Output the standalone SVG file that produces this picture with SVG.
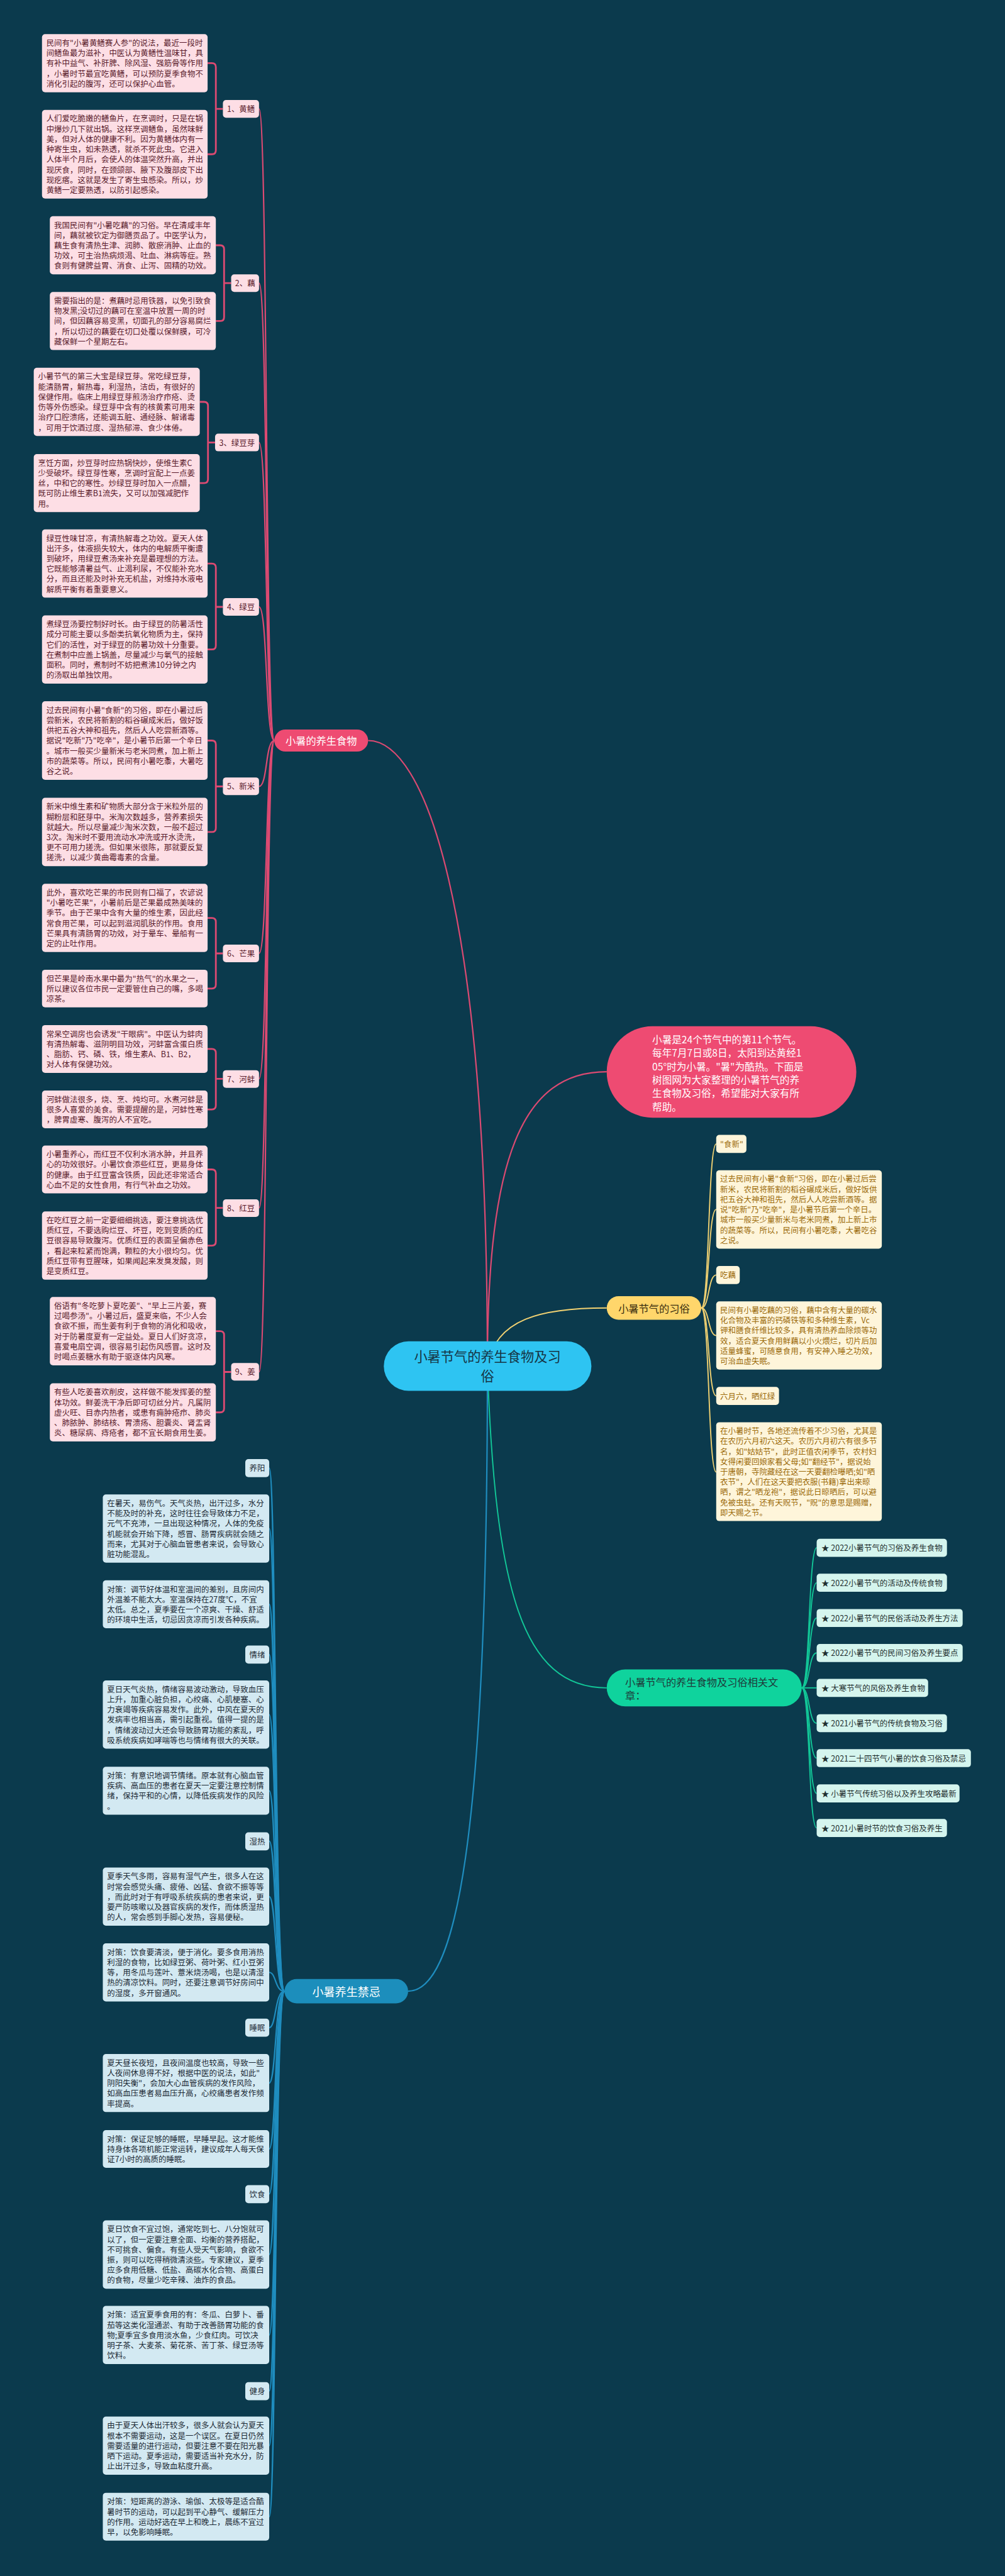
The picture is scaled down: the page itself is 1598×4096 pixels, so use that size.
<svg xmlns="http://www.w3.org/2000/svg" width="1598" height="4096" viewBox="0 0 1598 4096">
<style>
text,tspan{font-family:"Noto Sans CJK SC","Noto Sans",sans-serif;dominant-baseline:central}
.pb{fill:#FDDEE5}
.pt{font-size:20px;fill:#5A1B2C}
.pl{font-size:20px;fill:#5A1B2C;text-anchor:middle}
.tb{fill:#D3E9F2}
.tt{font-size:20px;fill:#1C2A35}
.tl{font-size:20px;fill:#1C2A35;text-anchor:middle}
.yb{fill:#FEF5DA}
.yt{font-size:20px;fill:#9C6B0A}
.gb{fill:#D5F5EE}
.gt{font-size:20px;fill:#1F2E2E}
.cp{fill:none;stroke:#DC4A72;stroke-width:3.5}
.cb{fill:none;stroke:#DC4A72;stroke-width:4.5}
.cy{fill:none;stroke:#F2D272;stroke-width:3}
.cg{fill:none;stroke:#12C898;stroke-width:3}
.ct{fill:none;stroke:#1F8DBF;stroke-width:3.5}
</style>
<rect width="1598" height="4096" fill="#0B3A4D"/>
<g transform="scale(0.624)">
<g id="connectors">
<path class="cp" d="M1242 3481 C1242 2300 1080 1887 938 1887"/>
<path class="cp" d="M1242 3481 C1242 2950 1330 2731 1546 2731"/>
<path class="cy" d="M1242 3481 C1262 3360 1380 3333 1546 3333"/>
<path class="cg" d="M1242 3481 C1262 4050 1330 4301 1546 4301"/>
<path class="ct" d="M1242 3481 C1242 4700 1160 5074 1040 5074"/>
<path class="cp" d="M699 1887 C676 1887 682 277.5 660 277.5"/>
<path class="cp" d="M699 1887 C676 1887 682 721.5 660 721.5"/>
<path class="cp" d="M699 1887 C676 1887 682 1127.5 660 1127.5"/>
<path class="cp" d="M699 1887 C676 1887 682 1546.5 660 1546.5"/>
<path class="cp" d="M699 1887 C676 1887 682 2004 660 2004"/>
<path class="cp" d="M699 1887 C676 1887 682 2429.5 660 2429.5"/>
<path class="cp" d="M699 1887 C676 1887 682 2749 660 2749"/>
<path class="cp" d="M699 1887 C676 1887 682 3078 660 3078"/>
<path class="cp" d="M699 1887 C676 1887 682 3496 660 3496"/>
<path class="cb" d="M568 277.5 H550 M529 161 H540 Q550 161 550 171 V383 Q550 393 540 393 H529"/>
<path class="cb" d="M589 721.5 H571 M550 625 H561 Q571 625 571 635 V808 Q571 818 561 818 H550"/>
<path class="cb" d="M548 1127.5 H530 M509 1024 H520 Q530 1024 530 1034 V1221 Q530 1231 520 1231 H509"/>
<path class="cb" d="M568 1546.5 H550 M529 1436 H540 Q550 1436 550 1446 V1645 Q550 1655 540 1655 H529"/>
<path class="cb" d="M568 2004 H550 M529 1887 H540 Q550 1887 550 1897 V2110 Q550 2120 540 2120 H529"/>
<path class="cb" d="M568 2429.5 H550 M529 2339 H540 Q550 2339 550 2349 V2509 Q550 2519 540 2519 H529"/>
<path class="cb" d="M568 2749 H550 M529 2673 H540 Q550 2673 550 2683 V2817 Q550 2827 540 2827 H529"/>
<path class="cb" d="M568 3078 H550 M529 2980 H540 Q550 2980 550 2990 V3164 Q550 3174 540 3174 H529"/>
<path class="cb" d="M589 3496 H571 M550 3392 H561 Q571 3392 571 3402 V3589 Q571 3599 561 3599 H550"/>
<path class="cy" d="M1787 3333 C1808 3333 1804 2915 1825 2915"/>
<path class="cy" d="M1787 3333 C1808 3333 1804 3082 1825 3082"/>
<path class="cy" d="M1787 3333 C1808 3333 1804 3249 1825 3249"/>
<path class="cy" d="M1787 3333 C1808 3333 1804 3403 1825 3403"/>
<path class="cy" d="M1787 3333 C1808 3333 1804 3557 1825 3557"/>
<path class="cy" d="M1787 3333 C1808 3333 1804 3751 1825 3751"/>
<path class="cg" d="M2043 4301 C2064 4301 2060 3944 2081 3944"/>
<path class="cg" d="M2043 4301 C2064 4301 2060 4033 2081 4033"/>
<path class="cg" d="M2043 4301 C2064 4301 2060 4123 2081 4123"/>
<path class="cg" d="M2043 4301 C2064 4301 2060 4212 2081 4212"/>
<path class="cg" d="M2043 4301 C2064 4301 2060 4301 2081 4301"/>
<path class="cg" d="M2043 4301 C2064 4301 2060 4391 2081 4391"/>
<path class="cg" d="M2043 4301 C2064 4301 2060 4480 2081 4480"/>
<path class="cg" d="M2043 4301 C2064 4301 2060 4570 2081 4570"/>
<path class="cg" d="M2043 4301 C2064 4301 2060 4658 2081 4658"/>
<path class="ct" d="M725 5074 C700 5074 704 3741 686 3741"/>
<path class="ct" d="M725 5074 C700 5074 704 3895 686 3895"/>
<path class="ct" d="M725 5074 C700 5074 704 4088 686 4088"/>
<path class="ct" d="M725 5074 C700 5074 704 4216 686 4216"/>
<path class="ct" d="M725 5074 C700 5074 704 4369 686 4369"/>
<path class="ct" d="M725 5074 C700 5074 704 4563 686 4563"/>
<path class="ct" d="M725 5074 C700 5074 704 4691.5 686 4691.5"/>
<path class="ct" d="M725 5074 C700 5074 704 4833 686 4833"/>
<path class="ct" d="M725 5074 C700 5074 704 5026 686 5026"/>
<path class="ct" d="M725 5074 C700 5074 704 5167 686 5167"/>
<path class="ct" d="M725 5074 C700 5074 704 5308 686 5308"/>
<path class="ct" d="M725 5074 C700 5074 704 5476 686 5476"/>
<path class="ct" d="M725 5074 C700 5074 704 5590.5 686 5590.5"/>
<path class="ct" d="M725 5074 C700 5074 704 5745 686 5745"/>
<path class="ct" d="M725 5074 C700 5074 704 5950 686 5950"/>
<path class="ct" d="M725 5074 C700 5074 704 6092.5 686 6092.5"/>
<path class="ct" d="M725 5074 C700 5074 704 6232 686 6232"/>
<path class="ct" d="M725 5074 C700 5074 704 6413 686 6413"/>
</g>

<g id="center">
<rect x="978" y="3418" width="529" height="126" rx="63" fill="#2EC4F2"/>
<text x="1242" y="3454" font-size="34" fill="#163545" text-anchor="middle"><tspan x="1242">小暑节气的养生食物及习</tspan><tspan x="1242" dy="50">俗</tspan></text>
</g>

<g id="intro">
<rect x="1546" y="2615" width="636" height="233" rx="116.5" fill="#EE4B72"/>
<text x="1662" y="2647" font-size="25" fill="#FFFFFF"><tspan x="1662">小暑是24个节气中的第11个节气。</tspan><tspan x="1662" dy="34.3">每年7月7日或8日，太阳到达黄经1</tspan><tspan x="1662" dy="34.3">05°时为小暑。"暑"为酷热。下面是</tspan><tspan x="1662" dy="34.3">树图网为大家整理的小暑节气的养</tspan><tspan x="1662" dy="34.3">生食物及习俗，希望能对大家有所</tspan><tspan x="1662" dy="34.3">帮助。</tspan></text>
</g>

<g id="food">
<rect x="699" y="1859" width="239" height="56" rx="28" fill="#EE4B72"/>
<text x="818.5" y="1887" font-size="26" fill="#FFFFFF" text-anchor="middle">小暑的养生食物</text>
</g>

<g id="food-1">
<rect class="pb" x="568" y="255" width="92" height="45" rx="8"/><text class="pl" x="614" y="277.5">1、黄鳝</text>
<rect class="pb" x="107" y="87" width="422" height="148" rx="8"/>
<text class="pt" x="118" y="109"><tspan x="118">民间有"小暑黄鳝赛人参"的说法，最近一段时</tspan><tspan x="118" dy="26">间鳝鱼最为滋补，中医认为黄鳝性温味甘，具</tspan><tspan x="118" dy="26">有补中益气、补肝脾、除风湿、强筋骨等作用</tspan><tspan x="118" dy="26">，小暑时节最宜吃黄鳝，可以预防夏季食物不</tspan><tspan x="118" dy="26">消化引起的腹泻，还可以保护心血管。</tspan></text>
<rect class="pb" x="107" y="280" width="422" height="226" rx="8"/>
<text class="pt" x="118" y="302"><tspan x="118">人们爱吃脆嫩的鳝鱼片，在烹调时，只是在锅</tspan><tspan x="118" dy="26">中爆炒几下就出锅。这样烹调鳝鱼，虽然味鲜</tspan><tspan x="118" dy="26">美，但对人体的健康不利。因为黄鳝体内有一</tspan><tspan x="118" dy="26">种寄生虫，如未熟透，就杀不死此虫。它进入</tspan><tspan x="118" dy="26">人体半个月后，会使人的体温突然升高，并出</tspan><tspan x="118" dy="26">现厌食，同时，在颈颌部、腋下及腹部皮下出</tspan><tspan x="118" dy="26">现疙瘩。这就是发生了寄生虫感染。所以，炒</tspan><tspan x="118" dy="26">黄鳝一定要熟透，以防引起感染。</tspan></text>
</g>

<g id="food-2">
<rect class="pb" x="589" y="699" width="71" height="45" rx="8"/><text class="pl" x="624.5" y="721.5">2、藕</text>
<rect class="pb" x="127" y="551" width="423" height="148" rx="8"/>
<text class="pt" x="138" y="573"><tspan x="138">我国民间有"小暑吃藕"的习俗。早在清咸丰年</tspan><tspan x="138" dy="26">间，藕就被钦定为御膳贡品了。中医学认为，</tspan><tspan x="138" dy="26">藕生食有清热生津、润肺、散瘀消肿、止血的</tspan><tspan x="138" dy="26">功效，可主治热病烦渴、吐血、淋病等症。熟</tspan><tspan x="138" dy="26">食则有健脾益胃、消食、止泻、固精的功效。</tspan></text>
<rect class="pb" x="127" y="744" width="423" height="148" rx="8"/>
<text class="pt" x="138" y="766"><tspan x="138">需要指出的是：煮藕时忌用铁器，以免引致食</tspan><tspan x="138" dy="26">物发黑;没切过的藕可在室温中放置一周的时</tspan><tspan x="138" dy="26">间，但因藕容易变黑，切面孔的部分容易腐烂</tspan><tspan x="138" dy="26">，所以切过的藕要在切口处覆以保鲜膜，可冷</tspan><tspan x="138" dy="26">藏保鲜一个星期左右。</tspan></text>
</g>

<g id="food-3">
<rect class="pb" x="548" y="1105" width="112" height="45" rx="8"/><text class="pl" x="604" y="1127.5">3、绿豆芽</text>
<rect class="pb" x="86" y="937" width="423" height="174" rx="8"/>
<text class="pt" x="97" y="959"><tspan x="97">小暑节气的第三大宝是绿豆芽。常吃绿豆芽，</tspan><tspan x="97" dy="26">能清肠胃，解热毒，利湿热，洁齿，有很好的</tspan><tspan x="97" dy="26">保健作用。临床上用绿豆芽煎汤治疗疖疮、烫</tspan><tspan x="97" dy="26">伤等外伤感染。绿豆芽中含有的核黄素可用来</tspan><tspan x="97" dy="26">治疗口腔溃疡，还能调五脏、通经脉、解诸毒</tspan><tspan x="97" dy="26">，可用于饮酒过度、湿热郁滞、食少体倦。</tspan></text>
<rect class="pb" x="86" y="1157" width="423" height="148" rx="8"/>
<text class="pt" x="97" y="1179"><tspan x="97">烹饪方面，炒豆芽时应热锅快炒，使维生素C</tspan><tspan x="97" dy="26">少受破坏。绿豆芽性寒，烹调时宜配上一点姜</tspan><tspan x="97" dy="26">丝，中和它的寒性。炒绿豆芽时加入一点醋，</tspan><tspan x="97" dy="26">既可防止维生素B1流失，又可以加强减肥作</tspan><tspan x="97" dy="26">用。</tspan></text>
</g>

<g id="food-4">
<rect class="pb" x="568" y="1524" width="92" height="45" rx="8"/><text class="pl" x="614" y="1546.5">4、绿豆</text>
<rect class="pb" x="107" y="1349" width="422" height="174" rx="8"/>
<text class="pt" x="118" y="1371"><tspan x="118">绿豆性味甘凉，有清热解毒之功效。夏天人体</tspan><tspan x="118" dy="26">出汗多，体液损失较大，体内的电解质平衡遭</tspan><tspan x="118" dy="26">到破坏，用绿豆煮汤来补充是最理想的方法。</tspan><tspan x="118" dy="26">它既能够清暑益气、止渴利尿，不仅能补充水</tspan><tspan x="118" dy="26">分，而且还能及时补充无机盐，对维持水液电</tspan><tspan x="118" dy="26">解质平衡有着重要意义。</tspan></text>
<rect class="pb" x="107" y="1568" width="422" height="174" rx="8"/>
<text class="pt" x="118" y="1590"><tspan x="118">煮绿豆汤要控制好时长。由于绿豆的防暑活性</tspan><tspan x="118" dy="26">成分可能主要以多酚类抗氧化物质为主，保持</tspan><tspan x="118" dy="26">它们的活性，对于绿豆的防暑功效十分重要。</tspan><tspan x="118" dy="26">在煮制中应盖上锅盖，尽量减少与氧气的接触</tspan><tspan x="118" dy="26">面积。同时，煮制时不妨把煮沸10分钟之内</tspan><tspan x="118" dy="26">的汤取出单独饮用。</tspan></text>
</g>

<g id="food-5">
<rect class="pb" x="568" y="1981" width="92" height="45" rx="8"/><text class="pl" x="614" y="2003.5">5、新米</text>
<rect class="pb" x="107" y="1787" width="422" height="200" rx="8"/>
<text class="pt" x="118" y="1809"><tspan x="118">过去民间有小暑"食新"的习俗，即在小暑过后</tspan><tspan x="118" dy="26">尝新米，农民将新割的稻谷碾成米后，做好饭</tspan><tspan x="118" dy="26">供祀五谷大神和祖先，然后人人吃尝新酒等。</tspan><tspan x="118" dy="26">据说"吃新"乃"吃辛"，是小暑节后第一个辛日</tspan><tspan x="118" dy="26">。城市一般买少量新米与老米同煮，加上新上</tspan><tspan x="118" dy="26">市的蔬菜等。所以，民间有小暑吃黍，大暑吃</tspan><tspan x="118" dy="26">谷之说。</tspan></text>
<rect class="pb" x="107" y="2033" width="422" height="174" rx="8"/>
<text class="pt" x="118" y="2055"><tspan x="118">新米中维生素和矿物质大部分含于米粒外层的</tspan><tspan x="118" dy="26">糊粉层和胚芽中。米淘次数越多，营养素损失</tspan><tspan x="118" dy="26">就越大。所以尽量减少淘米次数，一般不超过</tspan><tspan x="118" dy="26">3次。淘米时不要用流动水冲洗或开水烫洗，</tspan><tspan x="118" dy="26">更不可用力搓洗。但如果米很陈，那就要反复</tspan><tspan x="118" dy="26">搓洗，以减少黄曲霉毒素的含量。</tspan></text>
</g>

<g id="food-6">
<rect class="pb" x="568" y="2407" width="92" height="45" rx="8"/><text class="pl" x="614" y="2429.5">6、芒果</text>
<rect class="pb" x="107" y="2252" width="422" height="174" rx="8"/>
<text class="pt" x="118" y="2274"><tspan x="118">此外，喜欢吃芒果的市民则有口福了，农谚说</tspan><tspan x="118" dy="26">"小暑吃芒果"，小暑前后是芒果最成熟美味的</tspan><tspan x="118" dy="26">季节。由于芒果中含有大量的维生素，因此经</tspan><tspan x="118" dy="26">常食用芒果，可以起到滋润肌肤的作用。食用</tspan><tspan x="118" dy="26">芒果具有清肠胃的功效，对于晕车、晕船有一</tspan><tspan x="118" dy="26">定的止吐作用。</tspan></text>
<rect class="pb" x="107" y="2471" width="422" height="96" rx="8"/>
<text class="pt" x="118" y="2493"><tspan x="118">但芒果是岭南水果中最为"热气"的水果之一，</tspan><tspan x="118" dy="26">所以建议各位市民一定要管住自己的嘴，多喝</tspan><tspan x="118" dy="26">凉茶。</tspan></text>
</g>

<g id="food-7">
<rect class="pb" x="568" y="2727" width="92" height="45" rx="8"/><text class="pl" x="614" y="2749.5">7、河蚌</text>
<rect class="pb" x="107" y="2612" width="422" height="122" rx="8"/>
<text class="pt" x="118" y="2634"><tspan x="118">常呆空调房也会诱发"干眼病"。中医认为蚌肉</tspan><tspan x="118" dy="26">有清热解毒、滋阴明目功效，河蚌富含蛋白质</tspan><tspan x="118" dy="26">、脂肪、钙、磷、铁，维生素A、B1、B2，</tspan><tspan x="118" dy="26">对人体有保健功效。</tspan></text>
<rect class="pb" x="107" y="2779" width="422" height="96" rx="8"/>
<text class="pt" x="118" y="2801"><tspan x="118">河蚌做法很多，烧、烹、炖均可。水煮河蚌是</tspan><tspan x="118" dy="26">很多人喜爱的美食。需要提醒的是，河蚌性寒</tspan><tspan x="118" dy="26">，脾胃虚寒、腹泻的人不宜吃。</tspan></text>
</g>

<g id="food-8">
<rect class="pb" x="568" y="3056" width="92" height="45" rx="8"/><text class="pl" x="614" y="3078.5">8、红豆</text>
<rect class="pb" x="107" y="2919" width="422" height="122" rx="8"/>
<text class="pt" x="118" y="2941"><tspan x="118">小暑重养心，而红豆不仅利水消水肿，并且养</tspan><tspan x="118" dy="26">心的功效很好。小暑饮食添些红豆，更易身体</tspan><tspan x="118" dy="26">的健康。由于红豆富含铁质，因此还非常适合</tspan><tspan x="118" dy="26">心血不足的女性食用，有行气补血之功效。</tspan></text>
<rect class="pb" x="107" y="3087" width="422" height="174" rx="8"/>
<text class="pt" x="118" y="3109"><tspan x="118">在吃红豆之前一定要细细挑选，要注意挑选优</tspan><tspan x="118" dy="26">质红豆，不要选购烂豆、坏豆，吃到变质的红</tspan><tspan x="118" dy="26">豆很容易导致腹泻。优质红豆的表面呈偏赤色</tspan><tspan x="118" dy="26">，看起来粒紧而饱满，颗粒的大小很均匀。优</tspan><tspan x="118" dy="26">质红豆带有豆腥味，如果闻起来发臭发酸，则</tspan><tspan x="118" dy="26">是变质红豆。</tspan></text>
</g>

<g id="food-9">
<rect class="pb" x="589" y="3473" width="71" height="45" rx="8"/><text class="pl" x="624.5" y="3495.5">9、姜</text>
<rect class="pb" x="127" y="3305" width="423" height="174" rx="8"/>
<text class="pt" x="138" y="3327"><tspan x="138">俗语有"冬吃萝卜夏吃姜"、"早上三片姜，赛</tspan><tspan x="138" dy="26">过喝参汤"。小暑过后，盛夏来临，不少人会</tspan><tspan x="138" dy="26">食欲不振，而生姜有利于食物的消化和吸收，</tspan><tspan x="138" dy="26">对于防暑度夏有一定益处。夏日人们好贪凉，</tspan><tspan x="138" dy="26">喜爱电扇空调，很容易引起伤风感冒。这时及</tspan><tspan x="138" dy="26">时喝点姜糖水有助于驱逐体内风寒。</tspan></text>
<rect class="pb" x="127" y="3525" width="423" height="148" rx="8"/>
<text class="pt" x="138" y="3547"><tspan x="138">有些人吃姜喜欢削皮，这样做不能发挥姜的整</tspan><tspan x="138" dy="26">体功效。鲜姜洗干净后即可切丝分片。凡属阴</tspan><tspan x="138" dy="26">虚火旺、目赤内热者，或患有痈肿疮疖、肺炎</tspan><tspan x="138" dy="26">、肺脓肿、肺结核、胃溃疡、胆囊炎、肾盂肾</tspan><tspan x="138" dy="26">炎、糖尿病、痔疮者，都不宜长期食用生姜。</tspan></text>
</g>

<g id="customs">
<rect x="1546" y="3303" width="241" height="60" rx="30" fill="#FFD66B"/>
<text x="1666.5" y="3333" font-size="26" fill="#3A2F10" text-anchor="middle">小暑节气的习俗</text>
</g>
<g id="customs-1">
<rect class="yb" x="1825" y="2892" width="77" height="46" rx="8"/><text class="yt" x="1835" y="2915">"食新"</text>
<rect class="yb" x="1825" y="2982" width="422" height="200" rx="8"/>
<text class="yt" x="1835" y="3004"><tspan x="1835">过去民间有小暑"食新"习俗，即在小暑过后尝</tspan><tspan x="1835" dy="26">新米，农民将新割的稻谷碾成米后，做好饭供</tspan><tspan x="1835" dy="26">祀五谷大神和祖先，然后人人吃尝新酒等。据</tspan><tspan x="1835" dy="26">说"吃新"乃"吃辛"，是小暑节后第一个辛日。</tspan><tspan x="1835" dy="26">城市一般买少量新米与老米同煮，加上新上市</tspan><tspan x="1835" dy="26">的蔬菜等。所以，民间有小暑吃黍，大暑吃谷</tspan><tspan x="1835" dy="26">之说。</tspan></text>
</g>
<g id="customs-2">
<rect class="yb" x="1825" y="3226" width="60" height="46" rx="8"/><text class="yt" x="1835" y="3249">吃藕</text>
<rect class="yb" x="1825" y="3316" width="422" height="174" rx="8"/>
<text class="yt" x="1835" y="3338"><tspan x="1835">民间有小暑吃藕的习俗，藕中含有大量的碳水</tspan><tspan x="1835" dy="26">化合物及丰富的钙磷铁等和多种维生素，Vc</tspan><tspan x="1835" dy="26">钾和膳食纤维比较多，具有清热养血除烦等功</tspan><tspan x="1835" dy="26">效，适合夏天食用鲜藕以小火煨烂，切片后加</tspan><tspan x="1835" dy="26">适量蜂蜜，可随意食用，有安神入睡之功效，</tspan><tspan x="1835" dy="26">可治血虚失眠。</tspan></text>
</g>
<g id="customs-3">
<rect class="yb" x="1825" y="3534" width="160" height="46" rx="8"/><text class="yt" x="1835" y="3557">六月六，晒红绿</text>
<rect class="yb" x="1825" y="3624" width="422" height="252" rx="8"/>
<text class="yt" x="1835" y="3646"><tspan x="1835">在小暑时节，各地还流传着不少习俗，尤其是</tspan><tspan x="1835" dy="26">在农历六月初六这天。农历六月初六有很多节</tspan><tspan x="1835" dy="26">名，如"姑姑节"，此时正值农闲季节，农村妇</tspan><tspan x="1835" dy="26">女得闲要回娘家看父母;如"翻经节"，据说始</tspan><tspan x="1835" dy="26">于唐朝，寺院藏经在这一天要翻检曝晒;如"晒</tspan><tspan x="1835" dy="26">衣节"，人们在这天要把衣服(书籍)拿出来晾</tspan><tspan x="1835" dy="26">晒，谓之"晒龙袍"，据说此日晾晒后，可以避</tspan><tspan x="1835" dy="26">免被虫蛀。还有天贶节，"贶"的意思是赐赠，</tspan><tspan x="1835" dy="26">即天赐之节。</tspan></text>
</g>

<g id="articles">
<rect x="1546" y="4254" width="497" height="94" rx="47" fill="#0FD39D"/>
<text x="1593" y="4286" font-size="26" fill="#1E3A3A"><tspan x="1593">小暑节气的养生食物及习俗相关文</tspan><tspan x="1593" dy="33">章：</tspan></text>
</g>
<g id="article-1"><rect class="gb" x="2081" y="3921" width="332" height="46" rx="8"/><text class="gt" x="2093" y="3944">★ 2022小暑节气的习俗及养生食物</text></g>
<g id="article-2"><rect class="gb" x="2081" y="4010" width="332" height="46" rx="8"/><text class="gt" x="2093" y="4033">★ 2022小暑节气的活动及传统食物</text></g>
<g id="article-3"><rect class="gb" x="2081" y="4100" width="372" height="46" rx="8"/><text class="gt" x="2093" y="4123">★ 2022小暑节气的民俗活动及养生方法</text></g>
<g id="article-4"><rect class="gb" x="2081" y="4189" width="372" height="46" rx="8"/><text class="gt" x="2093" y="4212">★ 2022小暑节气的民间习俗及养生要点</text></g>
<g id="article-5"><rect class="gb" x="2081" y="4278" width="284" height="46" rx="8"/><text class="gt" x="2093" y="4301">★ 大寒节气的风俗及养生食物</text></g>
<g id="article-6"><rect class="gb" x="2081" y="4368" width="332" height="46" rx="8"/><text class="gt" x="2093" y="4391">★ 2021小暑节气的传统食物及习俗</text></g>
<g id="article-7"><rect class="gb" x="2081" y="4457" width="393" height="46" rx="8"/><text class="gt" x="2093" y="4480">★ 2021二十四节气小暑的饮食习俗及禁忌</text></g>
<g id="article-8"><rect class="gb" x="2081" y="4547" width="364" height="46" rx="8"/><text class="gt" x="2093" y="4570">★ 小暑节气传统习俗以及养生攻略最新</text></g>
<g id="article-9"><rect class="gb" x="2081" y="4635" width="332" height="46" rx="8"/><text class="gt" x="2093" y="4658">★ 2021小暑时节的饮食习俗及养生</text></g>

<g id="taboo">
<rect x="725" y="5043" width="315" height="62" rx="31" fill="#1C8EBC"/>
<text x="882.5" y="5074" font-size="29" fill="#FFFFFF" text-anchor="middle">小暑养生禁忌</text>
</g>
<g id="taboo-1">
<rect class="tb" x="625" y="3718" width="61" height="46" rx="8"/><text class="tl" x="655.5" y="3741">养阳</text>
<rect class="tb" x="262" y="3808" width="424" height="174" rx="8"/>
<text class="tt" x="273" y="3830"><tspan x="273">在暑天，易伤气。天气炎热，出汗过多，水分</tspan><tspan x="273" dy="26">不能及时的补充，这时往往会导致体力不足，</tspan><tspan x="273" dy="26">元气不充沛，一旦出现这种情况，人体的免疫</tspan><tspan x="273" dy="26">机能就会开始下降，感冒、肠胃疾病就会随之</tspan><tspan x="273" dy="26">而来，尤其对于心脑血管患者来说，会导致心</tspan><tspan x="273" dy="26">脏功能混乱。</tspan></text>
<rect class="tb" x="262" y="4027" width="424" height="122" rx="8"/>
<text class="tt" x="273" y="4049"><tspan x="273">对策：调节好体温和室温间的差别，且房间内</tspan><tspan x="273" dy="26">外温差不能太大。室温保持在27度℃，不宜</tspan><tspan x="273" dy="26">太低。总之，夏季要在一个凉爽、干燥、舒适</tspan><tspan x="273" dy="26">的环境中生活，切忌因贪凉而引发各种疾病。</tspan></text>
</g>
<g id="taboo-2">
<rect class="tb" x="625" y="4193" width="61" height="46" rx="8"/><text class="tl" x="655.5" y="4216">情绪</text>
<rect class="tb" x="262" y="4282" width="424" height="174" rx="8"/>
<text class="tt" x="273" y="4304"><tspan x="273">夏日天气炎热，情绪容易波动激动，导致血压</tspan><tspan x="273" dy="26">上升，加重心脏负担，心绞痛、心肌梗塞、心</tspan><tspan x="273" dy="26">力衰竭等疾病容易发作。此外，中风在夏天的</tspan><tspan x="273" dy="26">发病率也相当高，需引起重视。值得一提的是</tspan><tspan x="273" dy="26">，情绪波动过大还会导致肠胃功能的紊乱，呼</tspan><tspan x="273" dy="26">吸系统疾病如哮喘等也与情绪有很大的关联。</tspan></text>
<rect class="tb" x="262" y="4502" width="424" height="122" rx="8"/>
<text class="tt" x="273" y="4524"><tspan x="273">对策：有意识地调节情绪。原本就有心脑血管</tspan><tspan x="273" dy="26">疾病、高血压的患者在夏天一定要注意控制情</tspan><tspan x="273" dy="26">绪，保持平和的心情，以降低疾病发作的风险</tspan><tspan x="273" dy="26">。</tspan></text>
</g>
<g id="taboo-3">
<rect class="tb" x="625" y="4669" width="61" height="46" rx="8"/><text class="tl" x="655.5" y="4692">湿热</text>
<rect class="tb" x="262" y="4759" width="424" height="148" rx="8"/>
<text class="tt" x="273" y="4781"><tspan x="273">夏季天气多雨，容易有湿气产生，很多人在这</tspan><tspan x="273" dy="26">时常会感觉头痛、疲倦、凶猛、食欲不振等等</tspan><tspan x="273" dy="26">，而此时对于有呼吸系统疾病的患者来说，更</tspan><tspan x="273" dy="26">要严防咳嗽以及器官疾病的发作，而体质湿热</tspan><tspan x="273" dy="26">的人，常会感到手脚心发热，容易便秘。</tspan></text>
<rect class="tb" x="262" y="4952" width="424" height="148" rx="8"/>
<text class="tt" x="273" y="4974"><tspan x="273">对策：饮食要清淡，便于消化。要多食用消热</tspan><tspan x="273" dy="26">利湿的食物，比如绿豆粥、荷叶粥、红小豆粥</tspan><tspan x="273" dy="26">等，用冬瓜与莲叶、薏米烧汤喝，也是以清湿</tspan><tspan x="273" dy="26">热的清凉饮料。同时，还要注意调节好房间中</tspan><tspan x="273" dy="26">的湿度，多开窗通风。</tspan></text>
</g>
<g id="taboo-4">
<rect class="tb" x="625" y="5144" width="61" height="46" rx="8"/><text class="tl" x="655.5" y="5167">睡眠</text>
<rect class="tb" x="262" y="5234" width="424" height="148" rx="8"/>
<text class="tt" x="273" y="5256"><tspan x="273">夏天昼长夜短，且夜间温度也较高，导致一些</tspan><tspan x="273" dy="26">人夜间休息得不好，根据中医的说法，如此"</tspan><tspan x="273" dy="26">阴阳失衡"，会加大心血管疾病的发作风险，</tspan><tspan x="273" dy="26">如高血压患者易血压升高，心绞痛患者发作频</tspan><tspan x="273" dy="26">率提高。</tspan></text>
<rect class="tb" x="262" y="5428" width="424" height="96" rx="8"/>
<text class="tt" x="273" y="5450"><tspan x="273">对策：保证足够的睡眠，早睡早起。这才能维</tspan><tspan x="273" dy="26">持身体各项机能正常运转，建议成年人每天保</tspan><tspan x="273" dy="26">证7小时的高质的睡眠。</tspan></text>
</g>
<g id="taboo-5">
<rect class="tb" x="625" y="5568" width="61" height="46" rx="8"/><text class="tl" x="655.5" y="5591">饮食</text>
<rect class="tb" x="262" y="5658" width="424" height="174" rx="8"/>
<text class="tt" x="273" y="5680"><tspan x="273">夏日饮食不宜过饱，通常吃到七、八分饱就可</tspan><tspan x="273" dy="26">以了，但一定要注意全面、均衡的营养搭配，</tspan><tspan x="273" dy="26">不可挑食、偏食。有些人受天气影响，食欲不</tspan><tspan x="273" dy="26">振，则可以吃得稍微清淡些。专家建议，夏季</tspan><tspan x="273" dy="26">应多食用低糖、低盐、高碳水化合物、高蛋白</tspan><tspan x="273" dy="26">的食物，尽量少吃辛辣、油炸的食品。</tspan></text>
<rect class="tb" x="262" y="5876" width="424" height="148" rx="8"/>
<text class="tt" x="273" y="5898"><tspan x="273">对策：适宜夏季食用的有：冬瓜、白萝卜、番</tspan><tspan x="273" dy="26">茄等这类化湿通淤、有助于改善肠胃功能的食</tspan><tspan x="273" dy="26">物;夏季宜多食用淡水鱼，少食红肉。可饮决</tspan><tspan x="273" dy="26">明子茶、大麦茶、菊花茶、苦丁茶、绿豆汤等</tspan><tspan x="273" dy="26">饮料。</tspan></text>
</g>
<g id="taboo-6">
<rect class="tb" x="625" y="6070" width="61" height="46" rx="8"/><text class="tl" x="655.5" y="6093">健身</text>
<rect class="tb" x="262" y="6158" width="424" height="148" rx="8"/>
<text class="tt" x="273" y="6180"><tspan x="273">由于夏天人体出汗较多，很多人就会认为夏天</tspan><tspan x="273" dy="26">根本不需要运动，这是一个误区。在夏日仍然</tspan><tspan x="273" dy="26">需要适量的进行运动，但要注意不要在阳光暴</tspan><tspan x="273" dy="26">晒下运动。夏季运动，需要适当补充水分，防</tspan><tspan x="273" dy="26">止出汗过多，导致血粘度升高。</tspan></text>
<rect class="tb" x="262" y="6352" width="424" height="122" rx="8"/>
<text class="tt" x="273" y="6374"><tspan x="273">对策：短距离的游泳、瑜伽、太极等是适合酷</tspan><tspan x="273" dy="26">暑时节的运动，可以起到平心静气、缓解压力</tspan><tspan x="273" dy="26">的作用。运动好选在早上和晚上，晨练不宜过</tspan><tspan x="273" dy="26">早，以免影响睡眠。</tspan></text>
</g>
</g>
</svg>
